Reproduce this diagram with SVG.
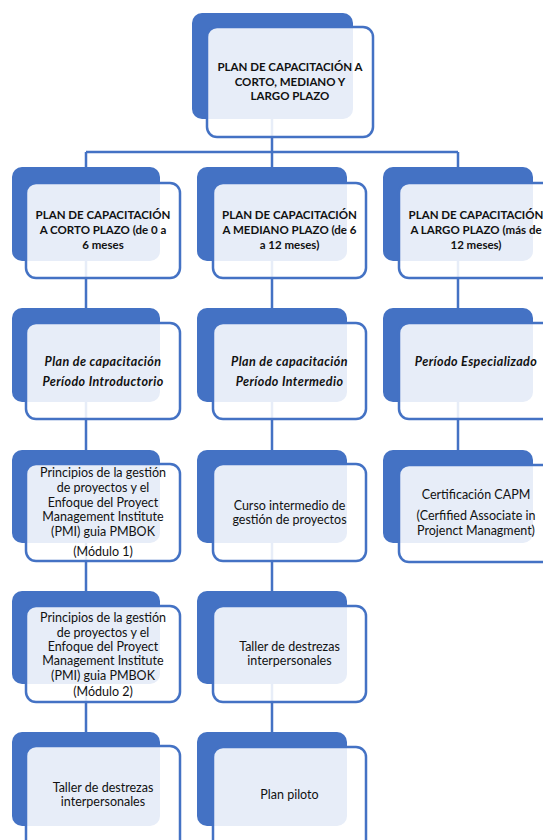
<svg xmlns="http://www.w3.org/2000/svg" width="543" height="840" viewBox="0 0 543 840">
<style>
.bk{fill:#4472C4}
.fr{fill:#ffffff;fill-opacity:0.87;stroke:#4472C4;stroke-width:2.5}
.cn{stroke:#4472C4;stroke-width:2.5;fill:none}
text{font-family:Lato,"Open Sans","Liberation Sans",sans-serif;fill:#111;text-anchor:middle}
.b{font-weight:bold;font-size:11.5px}
.bi{font-weight:bold;font-style:italic;font-size:12.5px;letter-spacing:0.4px}
.r{font-size:12.5px}
</style>
<rect width="543" height="840" fill="#fff"/>
<g id="connectors">
<path class="cn" d="M272 119V152M86 152H458M86 152V167M272 152V167M458 152V167"/>
<path class="cn" d="M86 261V308M86 402V450M86 543V591M86 684V732"/>
<path class="cn" d="M272 261V308M272 402V450M272 543V591M272 684V732"/>
<path class="cn" d="M458 261V308M458 402V450"/>
</g>
<g id="n0">
<rect class="bk" x="192" y="13" width="161" height="106" rx="10"/>
<rect class="fr" x="207" y="27" width="166" height="110" rx="10"/>
<text class="b" x="290" y="71">PLAN DE CAPACITACIÓN A</text>
<text class="b" x="290" y="85.5">CORTO, MEDIANO Y</text>
<text class="b" x="290" y="100">LARGO PLAZO</text>
</g>
<g id="n1">
<rect class="bk" x="12" y="167" width="148" height="94" rx="10"/>
<rect class="fr" x="26" y="183" width="154" height="95" rx="10"/>
<text class="b" x="103" y="219">PLAN DE CAPACITACIÓN</text>
<text class="b" x="103" y="234">A CORTO PLAZO (de 0 a</text>
<text class="b" x="103" y="249">6 meses</text>
</g>
<g id="n2">
<rect class="bk" x="197" y="167" width="150" height="94" rx="10"/>
<rect class="fr" x="213" y="183" width="153" height="95" rx="10"/>
<text class="b" x="289.5" y="219">PLAN DE CAPACITACIÓN</text>
<text class="b" x="289.5" y="234">A MEDIANO PLAZO (de 6</text>
<text class="b" x="289.5" y="249">a 12 meses)</text>
</g>
<g id="n3">
<rect class="bk" x="383" y="167" width="150" height="94" rx="10"/>
<rect class="fr" x="399" y="183" width="154" height="95" rx="10"/>
<text class="b" x="476" y="219">PLAN DE CAPACITACIÓN</text>
<text class="b" x="476" y="234">A LARGO PLAZO (más de</text>
<text class="b" x="476" y="249">12 meses)</text>
</g>
<g id="n4">
<rect class="bk" x="12" y="308" width="148" height="94" rx="10"/>
<rect class="fr" x="26" y="323" width="154" height="96" rx="10"/>
<text class="bi" x="103" y="366">Plan de capacitación</text>
<text class="bi" x="103" y="386">Período Introductorio</text>
</g>
<g id="n5">
<rect class="bk" x="197" y="308" width="150" height="94" rx="10"/>
<rect class="fr" x="213" y="323" width="153" height="96" rx="10"/>
<text class="bi" x="289.5" y="366">Plan de capacitación</text>
<text class="bi" x="289.5" y="386">Período Intermedio</text>
</g>
<g id="n6">
<rect class="bk" x="383" y="308" width="150" height="94" rx="10"/>
<rect class="fr" x="399" y="323" width="154" height="96" rx="10"/>
<text class="bi" x="476" y="366">Período Especializado</text>
</g>
<g id="n7">
<rect class="bk" x="12" y="450" width="148" height="93" rx="10"/>
<rect class="fr" x="26" y="464" width="154" height="97" rx="10"/>
<text class="r" x="103" y="477">Principios de la gestión</text>
<text class="r" x="103" y="492">de proyectos y el</text>
<text class="r" x="103" y="507">Enfoque del Proyect</text>
<text class="r" x="103" y="521">Management Institute</text>
<text class="r" x="103" y="536">(PMI) guia PMBOK</text>
<text class="r" x="103" y="556">(Módulo 1)</text>
</g>
<g id="n8">
<rect class="bk" x="197" y="450" width="150" height="93" rx="10"/>
<rect class="fr" x="213" y="464" width="153" height="97" rx="10"/>
<text class="r" x="289.5" y="510">Curso intermedio de</text>
<text class="r" x="289.5" y="524">gestión de proyectos</text>
</g>
<g id="n9">
<rect class="bk" x="383" y="450" width="150" height="93" rx="10"/>
<rect class="fr" x="399" y="465" width="154" height="97" rx="10"/>
<text class="r" x="476" y="499">Certificación CAPM</text>
<text class="r" x="476" y="520">(Cerfified Associate in</text>
<text class="r" x="476" y="535">Projenct Managment)</text>
</g>
<g id="n10">
<rect class="bk" x="12" y="591" width="148" height="93" rx="10"/>
<rect class="fr" x="26" y="606" width="154" height="96" rx="10"/>
<text class="r" x="103" y="622">Principios de la gestión</text>
<text class="r" x="103" y="637">de proyectos y el</text>
<text class="r" x="103" y="651">Enfoque del Proyect</text>
<text class="r" x="103" y="665">Management Institute</text>
<text class="r" x="103" y="680">(PMI) guia PMBOK</text>
<text class="r" x="103" y="696">(Módulo 2)</text>
</g>
<g id="n11">
<rect class="bk" x="197" y="591" width="150" height="93" rx="10"/>
<rect class="fr" x="213" y="606" width="153" height="96" rx="10"/>
<text class="r" x="289.5" y="651">Taller de destrezas</text>
<text class="r" x="289.5" y="665">interpersonales</text>
</g>
<g id="n12">
<rect class="bk" x="12" y="732" width="148" height="94" rx="10"/>
<rect class="fr" x="26" y="746" width="154" height="110" rx="10"/>
<text class="r" x="103" y="792">Taller de destrezas</text>
<text class="r" x="103" y="806">interpersonales</text>
</g>
<g id="n13">
<rect class="bk" x="197" y="732" width="150" height="94" rx="10"/>
<rect class="fr" x="213" y="747" width="153" height="110" rx="10"/>
<text class="r" x="289.5" y="799">Plan piloto</text>
</g>
</svg>
